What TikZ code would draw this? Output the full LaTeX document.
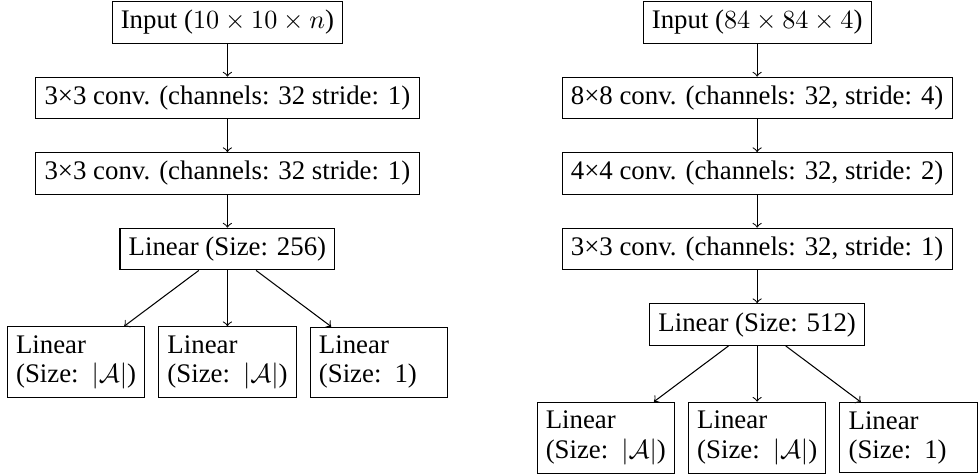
\documentclass[tikz,border=0pt]{standalone}
\usepackage[no-math]{fontspec}
\setmainfont{Liberation Serif}
\usepackage{amsmath}
\usetikzlibrary{positioning,arrows}
\tikzstyle{layer}=[rectangle, draw, inner sep=3.33pt, minimum height=14.9pt, font=\fontsize{10.25pt}{11.2pt}\selectfont]
\tikzstyle{head}=[rectangle, draw, inner sep=3.33pt, text width=45.8pt, align=left, font=\fontsize{10.25pt}{11.2pt}\selectfont]
\tikzstyle{line}=[->]
\newcommand\sgap{\nobreak\hspace{5pt}}

\begin{document}
\begin{tikzpicture}[node distance=12.5pt]
\useasboundingbox (0,0) rectangle (373.7pt,-181.1pt);

%small input network
    \node (inA) [layer] at (86.9pt,-8.6pt) {Input ($10 \times 10 \times n$)};
    \node (convAa) [layer, below=of inA] {3×3 conv. (channels: 32 stride: 1)};
    \node (convAb) [layer, below=of convAa] {3×3 conv. (channels: 32 stride: 1)};
    \node (linA) [layer, below=of convAb] {Linear (Size: 256)};

    \node (headAb) [head, below=21.3pt of linA] {Linear\\(Size:\sgap$|\mathcal{A}|$)};
    \node (headAa) [head, left=5pt of headAb] {Linear\\(Size:\sgap$|\mathcal{A}|$)};
    \node (headAc) [head, right=5pt of headAb] {Linear\\(Size:\sgap1)};

%atari network
    \node (inB) [layer] at (289.3pt,-8.6pt) {Input ($84 \times 84 \times 4$)};
    \node (convBa) [layer, below=of inB] {8×8 conv. (channels: 32, stride: 4)};
    \node (convBb) [layer, below=of convBa] {4×4 conv. (channels: 32, stride: 2)};
    \node (convBc) [layer, below=of convBb] {3×3 conv. (channels: 32, stride: 1)};
    \node (linB) [layer, below=of convBc] {Linear (Size: 512)};

    \node (headBb) [head, below=21.3pt of linB] {Linear\\(Size:\sgap$|\mathcal{A}|$)};
    \node (headBa) [head, left=5pt of headBb] {Linear\\(Size:\sgap$|\mathcal{A}|$)};
    \node (headBc) [head, right=5pt of headBb] {Linear\\(Size:\sgap1)};

   \draw[line] (inA) -- (convAa);
   \draw[line] (convAa) -- (convAb);
   \draw[line] (convAb) -- (linA);
   \draw[line] (linA) -- (headAa);
   \draw[line] (linA) -- (headAb);
   \draw[line] (linA) -- (headAc);

   \draw[line] (inB) -- (convBa);
   \draw[line] (convBa) -- (convBb);
   \draw[line] (convBb) -- (convBc);
   \draw[line] (convBc) -- (linB);
   \draw[line] (linB) -- (headBa);
   \draw[line] (linB) -- (headBb);
   \draw[line] (linB) -- (headBc);

\end{tikzpicture}
\end{document}
